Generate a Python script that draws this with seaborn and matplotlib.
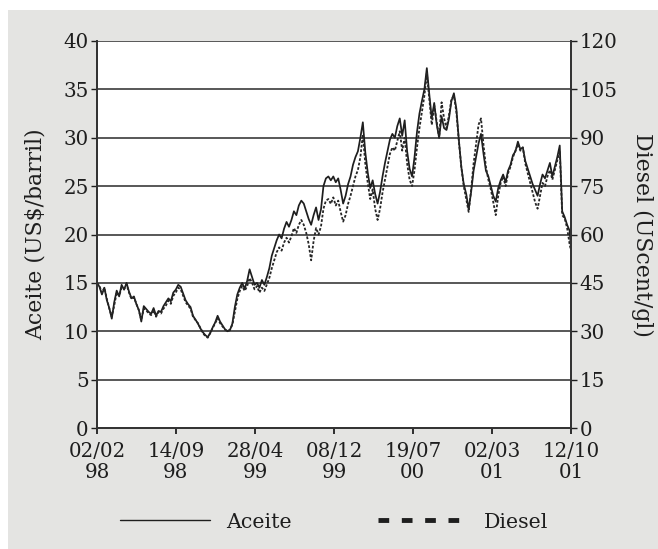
import numpy as np
import pandas as pd
import matplotlib
matplotlib.use("Agg")
import matplotlib.pyplot as plt
from matplotlib.lines import Line2D
from matplotlib.patches import Rectangle
import seaborn as sns

# Weekly prices, starting 02/02/1998
start_date = "1998-02-02"
end_date = "2001-10-12"

aceite = [
    15.0, 14.6, 13.8, 14.5, 13.2, 12.4, 11.3, 13.0, 14.2, 13.6,
    14.8, 14.3, 15.0, 14.1, 13.4, 13.6, 12.8, 12.2, 11.0, 12.6,
    12.3, 12.0, 11.8, 12.4, 11.6, 12.1, 12.0, 12.6, 13.0, 13.4,
    13.1, 14.0, 14.3, 14.8, 14.6, 13.9, 13.2, 12.8, 12.5, 11.6,
    11.2, 10.8, 10.3, 9.9, 9.6, 9.4, 9.8, 10.4, 10.9, 11.6,
    11.0, 10.6, 10.2, 10.0, 10.1, 10.8, 12.5, 13.8, 14.5, 15.0,
    14.4, 15.2, 16.4, 15.6, 14.8, 15.0, 14.5, 15.3, 14.8, 15.6,
    16.5, 17.8, 18.6, 19.4, 20.0, 19.6, 20.6, 21.3, 20.8, 21.5,
    22.4, 22.0, 23.0, 23.5, 23.2, 22.4, 21.6, 21.0, 22.0, 22.8,
    21.5, 22.6, 25.0, 25.8, 26.0, 25.6, 26.0, 25.4, 25.8, 24.6,
    23.2, 24.0, 25.2, 26.0, 27.2, 28.0, 28.6, 30.0, 31.6, 28.5,
    26.4, 24.8, 25.6, 24.2, 23.2, 24.4, 26.0, 27.4, 28.6, 29.8,
    30.4, 30.0, 31.2, 32.0, 30.2, 31.8, 28.6, 26.8, 26.0, 28.0,
    30.6, 32.5, 33.8, 35.0, 37.2, 34.5, 32.0, 33.6, 31.4, 30.0,
    32.2, 31.0, 30.8, 32.0, 33.8, 34.6, 33.0, 29.8, 27.0, 25.2,
    24.2, 22.6, 24.4, 26.6, 28.0, 29.4, 30.4, 28.4, 26.6, 26.0,
    25.0, 24.0, 23.4, 24.8, 25.6, 26.2, 25.4, 26.6, 27.2, 28.2,
    28.6, 29.6, 28.8, 29.0, 27.6, 26.8, 26.0, 25.2, 24.6, 24.0,
    25.2, 26.2, 25.8, 26.6, 27.4, 26.0, 27.0, 28.0, 29.2, 22.4,
    21.8, 21.0, 20.4, 18.6,
]

diesel = [
    45.0, 44.0, 42.0, 43.5, 40.0, 37.0, 34.5, 38.0, 42.0, 41.0,
    43.5, 43.0, 44.5, 42.0, 40.0, 40.5, 38.5, 36.5, 33.5, 37.0,
    36.5, 35.5, 35.0, 36.5, 34.5, 36.0, 35.5, 37.0, 38.0, 39.5,
    38.5, 41.0, 42.0, 43.5, 43.0, 41.0, 39.0, 38.0, 37.0, 34.5,
    33.5, 32.5, 31.0, 29.5, 28.5, 28.0, 29.5, 31.0, 32.5, 34.0,
    32.5, 31.5, 30.5, 30.0, 30.5, 32.0, 36.0, 40.0, 42.5, 44.0,
    42.5, 44.0, 46.5, 45.0, 43.0, 44.0, 42.0, 43.5, 42.5, 44.5,
    46.5, 49.5, 52.0, 54.5, 56.0, 55.0, 57.5, 59.0, 57.5, 59.5,
    62.0, 60.5, 63.0, 64.5, 63.0, 60.5, 57.0, 52.0, 58.0, 62.0,
    60.0, 62.5, 68.0, 70.5, 71.0, 69.5, 71.5, 69.0, 70.5, 67.0,
    64.0, 66.0, 69.5, 72.0, 75.0, 78.0, 80.0, 84.0, 91.0, 82.0,
    76.0, 71.0, 74.0, 68.0, 64.5, 68.0, 73.0, 77.0, 81.0, 85.0,
    87.0, 86.0, 89.0, 92.0, 86.0, 90.0, 82.0, 77.0, 75.0, 80.0,
    87.0, 93.0, 98.0, 103.0, 110.0, 102.0, 94.0, 100.0, 95.0, 90.0,
    101.0, 96.0, 93.0, 97.0, 102.0, 103.0, 98.0, 89.0, 81.0, 75.0,
    71.0, 67.0, 74.0, 82.0, 88.0, 94.0, 96.0, 88.0, 81.0, 77.0,
    74.0, 70.0, 66.0, 72.0, 76.0, 78.0, 75.0, 79.0, 81.0, 84.0,
    86.0, 88.0, 86.0, 87.0, 82.0, 79.0, 76.0, 73.0, 70.0, 68.0,
    72.0, 76.0, 75.0, 78.0, 80.0, 77.0, 80.0, 83.0, 86.0, 66.0,
    65.0, 62.0, 57.0, 55.0,
]

tick_dates = ["1998-02-02", "1998-09-14", "1999-04-28", "1999-12-08",
              "2000-07-19", "2001-03-02", "2001-10-12"]
tick_labels = ["02/02\n98", "14/09\n98", "28/04\n99", "08/12\n99",
               "19/07\n00", "02/03\n01", "12/10\n01"]
aceite_ticks = [0, 5, 10, 15, 20, 25, 30, 35, 40]
diesel_ticks = [0, 15, 30, 45, 60, 75, 90, 105, 120]

dates = list(pd.date_range(start_date, periods=len(aceite) - 1, freq="7D"))
dates.append(pd.Timestamp(end_date))
df = pd.DataFrame({"fecha": dates, "Aceite": aceite, "Diesel": diesel})

sns.set_style("white")
plt.rcParams["font.family"] = ["DejaVu Serif"]

fig = plt.figure(figsize=(6.58, 5.49), dpi=100, facecolor="white")
fig.patches.append(Rectangle((8 / 658, 0), 1, 1 - 10 / 549,
                             transform=fig.transFigure, facecolor="#e4e4e2",
                             edgecolor="none", zorder=-10))

ax = fig.add_axes([97 / 658, 1 - 428 / 549, 474 / 658, 387 / 549])
ax.set_facecolor("white")
ax2 = ax.twinx()

ink = "#1e1e1e"
sns.lineplot(data=df, x="fecha", y="Aceite", ax=ax, color=ink, lw=1.25)
sns.lineplot(data=df, x="fecha", y="Diesel", ax=ax2, color="#262626",
             lw=1.3, linestyle=(0, (1.5, 1.0)))

xmin, xmax = pd.Timestamp(start_date), pd.Timestamp(end_date)
ax.set_xlim(xmin, xmax)
ax.set_ylim(0, 40)
ax2.set_ylim(0, 120)

for v in aceite_ticks[1:]:
    ax.axhline(v, color="#4a4a4a", lw=1.3, zorder=0)

ax.set_yticks(aceite_ticks)
ax.set_yticklabels([str(t) for t in aceite_ticks])
ax2.set_yticks(diesel_ticks)
ax2.set_yticklabels([str(t) for t in diesel_ticks])
ax.set_xticks([pd.Timestamp(d) for d in tick_dates])
ax.set_xticklabels(tick_labels, linespacing=1.15)

fs = 14.3
ax.tick_params(axis="y", direction="out", length=4, width=1, colors=ink,
               labelsize=fs, pad=2, left=True)
ax2.tick_params(axis="y", direction="out", length=4, width=1, colors=ink,
                labelsize=fs, pad=2, right=True)
ax.tick_params(axis="x", direction="out", length=4, width=1.3, colors=ink,
               labelsize=fs, pad=6, bottom=True)

for a in (ax, ax2):
    a.set_xlabel("")
    a.spines["top"].set_visible(False)
    for s in ("left", "right", "bottom"):
        a.spines[s].set_color("#333333")
        a.spines[s].set_linewidth(1.3)

ax.set_ylabel("Aceite (US$/barril)", fontsize=fs + 1.5, color=ink,
              labelpad=12)
ax2.set_ylabel("Diesel (UScent/gl)", fontsize=fs + 1.5, color=ink,
               rotation=270, labelpad=26)

handles = [
    Line2D([], [], color=ink, lw=1.0),
    Line2D([], [], color=ink, lw=3.5, linestyle=(0, (2.2, 2.6))),
]
fig.legend(handles, ["Aceite", "Diesel"], loc="center",
           bbox_to_anchor=(334 / 658, 1 - 522 / 549), ncol=2, frameon=False,
           fontsize=fs + 0.5, handlelength=4.4, columnspacing=4.2,
           handletextpad=0.75, labelcolor=ink)

fig.savefig("out.png", dpi=100, facecolor=fig.get_facecolor())
